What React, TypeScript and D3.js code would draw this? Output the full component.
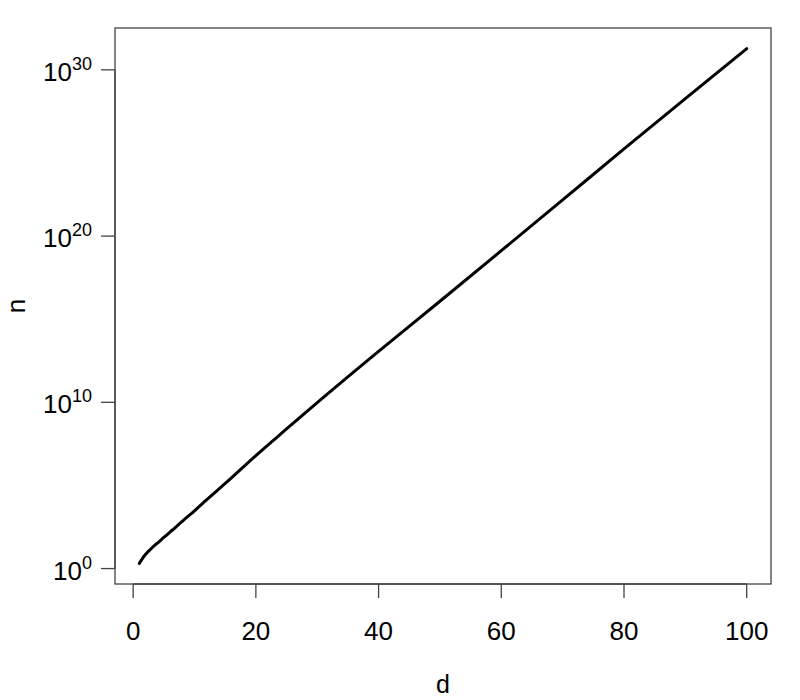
import React from "react";
import * as d3 from "d3";

// Dimension d and the value n (log y axis)
const dValues = [1, 1.5, 2, 3, 4, 5, 6, 7, 8, 10, 12, 15, 20, 25, 30, 40, 50, 60, 70, 80, 90, 100];
const nValues = [
  2.04, 4.0, 7.0, 16.6, 35.5, 74, 155, 324, 692, 3.0e3, 1.38e4, 1.32e5, 6.3e6, 2.5e8,
  9.5e9, 1.15e13, 1.2e16, 1.32e19, 1.5e22, 1.74e25, 1.86e28, 1.9e31,
];
const xTicks = [0, 20, 40, 60, 80, 100];
const yTickExponents = [0, 10, 20, 30];
const xLabel = "d";
const yLabel = "n";

const W = 800;
const H = 700;
const box = { left: 115, right: 771, top: 28, bottom: 584 };
const FONT = "'Liberation Sans', Arial, Helvetica, sans-serif";

export default function App() {
  const [dMin, dMax] = d3.extent(dValues) as [number, number];
  const dExt = (dMax - dMin) * 0.04;
  const x = d3.scaleLinear().domain([dMin - dExt, dMax + dExt]).range([box.left, box.right]);

  const logs = nValues.map((v) => Math.log10(v));
  const [lMin, lMax] = d3.extent(logs) as [number, number];
  const lExt = (lMax - lMin) * 0.04;
  const y = d3
    .scaleLog()
    .domain([Math.pow(10, lMin - lExt), Math.pow(10, lMax + lExt)])
    .range([box.bottom, box.top]);

  const pts: [number, number][] = dValues.map((d, i) => [d, nValues[i]]);
  const line = d3
    .line<[number, number]>()
    .x((p) => x(p[0]))
    .y((p) => y(p[1]))
    .curve(d3.curveMonotoneX);

  const axisColor = "#444";
  const tickLen = 14;

  return (
    <svg
      width={W}
      height={H}
      style={{ position: "absolute", left: 0, top: 0, background: "#fff" }}
      fontFamily={FONT}
    >
      <rect x={0} y={0} width={W} height={H} fill="#fff" />
      {/* plot box */}
      <rect
        x={box.left}
        y={box.top}
        width={box.right - box.left}
        height={box.bottom - box.top}
        fill="none"
        stroke={axisColor}
        strokeWidth={1.3}
      />
      {/* x axis */}
      <line
        x1={x(xTicks[0])}
        x2={x(xTicks[xTicks.length - 1])}
        y1={box.bottom}
        y2={box.bottom}
        stroke={axisColor}
        strokeWidth={1.3}
      />
      {xTicks.map((t) => (
        <g key={"xt" + t}>
          <line
            x1={x(t)}
            x2={x(t)}
            y1={box.bottom}
            y2={box.bottom + tickLen}
            stroke={axisColor}
            strokeWidth={1.3}
          />
          <text x={x(t)} y={640} textAnchor="middle" fontSize={26} fill="#000">
            {t}
          </text>
        </g>
      ))}
      {/* y axis */}
      <line
        x1={box.left}
        x2={box.left}
        y1={y(Math.pow(10, yTickExponents[0]))}
        y2={y(Math.pow(10, yTickExponents[yTickExponents.length - 1]))}
        stroke={axisColor}
        strokeWidth={1.3}
      />
      {yTickExponents.map((e) => {
        const yy = y(Math.pow(10, e));
        return (
          <g key={"yt" + e}>
            <line
              x1={box.left - tickLen}
              x2={box.left}
              y1={yy}
              y2={yy}
              stroke={axisColor}
              strokeWidth={1.3}
            />
            <text x={92} y={yy + 11} textAnchor="end" fontSize={26} fill="#000">
              10
              <tspan fontSize={18} dy={-11}>
                {e}
              </tspan>
            </text>
          </g>
        );
      })}
      {/* axis titles */}
      <text x={(box.left + box.right) / 2} y={693} textAnchor="middle" fontSize={25} fill="#000">
        {xLabel}
      </text>
      <text
        transform={`translate(25, ${(box.top + box.bottom) / 2}) rotate(-90)`}
        textAnchor="middle"
        fontSize={26}
        fill="#000"
      >
        {yLabel}
      </text>
      {/* data line */}
      <path
        d={line(pts) || ""}
        fill="none"
        stroke="#000"
        strokeWidth={3}
        strokeLinecap="round"
        strokeLinejoin="round"
      />
    </svg>
  );
}
